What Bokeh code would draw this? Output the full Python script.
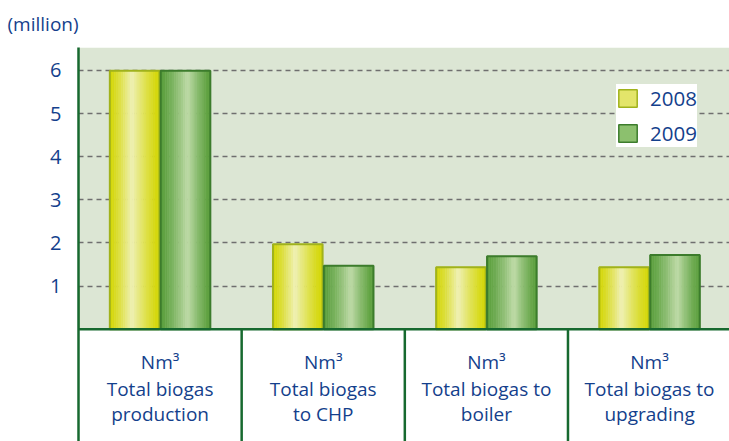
import numpy as np
from bokeh.plotting import figure
from bokeh.models import (ColumnDataSource, BoxAnnotation, FixedTicker, Legend,
                          LegendItem, Range1d)
from bokeh.embed import file_html
from bokeh.resources import INLINE
from bokeh.core.properties import value

# ---- data ----
categories = ["Total biogas production", "Total biogas to CHP",
              "Total biogas to boiler", "Total biogas to upgrading"]
unit_line = ["Nm³", "Nm³", "Nm³", "Nm³"]
label_line2 = ["Total biogas", "Total biogas", "Total biogas to", "Total biogas to"]
label_line3 = ["production", "to CHP", "boiler", "upgrading"]
series = ["2008", "2009"]
values_2008 = [5.99, 1.97, 1.44, 1.44]
values_2009 = [5.99, 1.47, 1.69, 1.72]
y_ticks = [1, 2, 3, 4, 5, 6]
y_unit = "(million)"

# ---- style ----
FONT = "Open Sans"
BLUE = "#143f8c"
DKGREEN = "#17692f"
BG = "#dce6d4"

yellow_edge = np.array([0xd4, 0xd7, 0x05])
yellow_light = np.array([0xf0, 0xf1, 0xb6])
green_edge = np.array([0x5a, 0x9f, 0x3c])
green_light = np.array([0xbf, 0xdb, 0xa8])
yellow_outline = "#a0b21c"
green_outline = "#3c7c2c"

def hexcol(c):
    c = np.clip(np.round(c), 0, 255).astype(int)
    return "#%02x%02x%02x" % tuple(c)

def shade(edge, light, t, peak):
    d = abs(t - peak) / (peak if t < peak else 1 - peak)
    f = max(0.0, 1 - d) ** 1.3
    return hexcol(edge + (light - edge) * f)

Y0, Y1 = -2.6, 6.53
X0, X1 = 0, 3.99
p = figure(width=729, height=441, output_backend="svg", toolbar_location=None,
           x_range=Range1d(X0, X1), y_range=Range1d(Y0, Y1),
           x_axis_location=None, min_border_left=78, min_border_right=0,
           min_border_top=47, min_border_bottom=0, title=y_unit)
p.outline_line_color = None
p.background_fill_color = "white"
p.border_fill_color = "white"

# green plot background above zero
p.add_layout(BoxAnnotation(bottom=0, fill_color=BG, fill_alpha=1,
                           line_color=None, level="image"))

# unit title
p.title.text_font = FONT
p.title.text_font_size = "19px"
p.title.text_font_style = "normal"
p.title.text_color = BLUE
p.title.align = "left"
p.title.vertical_align = "top"
p.title.offset = -71
p.title.standoff = 18

# y axis
yax = p.yaxis[0]
yax.ticker = FixedTicker(ticks=y_ticks)
yax.minor_tick_line_color = None
yax.major_tick_line_color = None
yax.major_tick_out = 0
yax.major_tick_in = 0
yax.axis_line_color = DKGREEN
yax.axis_line_width = 2.5
yax.major_label_text_font = FONT
yax.major_label_text_font_size = "20px"
yax.major_label_text_color = BLUE
yax.major_label_standoff = 17

p.xgrid.visible = False
p.ygrid.ticker = FixedTicker(ticks=y_ticks)
p.ygrid.grid_line_color = "#6f6f6f"
p.ygrid.grid_line_width = 1.6
p.ygrid.grid_line_dash = "5 4"

# bars with simulated gradient
n_cat = len(categories)
centers = np.arange(n_cat) + 0.5
bw = 0.304
offsets = [-0.156, 0.156]
N = 22
xs, tops, cols = [], [], []
palette = [(yellow_edge, yellow_light, 0.45), (green_edge, green_light, 0.55)]
for s, vals in enumerate([values_2008, values_2009]):
    edge, light, peak = palette[s]
    for i, v in enumerate(vals):
        left = centers[i] + offsets[s] - bw / 2
        for k in range(N):
            t = (k + 0.5) / N
            xs.append(left + t * bw)
            tops.append(v)
            cols.append(shade(edge, light, t, peak))
strip_src = ColumnDataSource(dict(x=xs, top=tops, color=cols))
p.vbar(x="x", top="top", bottom=0, width=bw / N, source=strip_src,
       fill_color="color", line_color="color", line_width=0.6)

r08 = p.vbar(x=centers + offsets[0], top=values_2008, bottom=0, width=bw,
             fill_alpha=0, line_color=yellow_outline, line_width=2)
r09 = p.vbar(x=centers + offsets[1], top=values_2009, bottom=0, width=bw,
             fill_alpha=0, line_color=green_outline, line_width=2)

# legend swatch renderers (placed outside the visible x range)
l08 = p.vbar(x=[-9], top=[1], width=0.1, fill_color="#e3e56a",
             line_color=yellow_outline, line_width=1.5)
l09 = p.vbar(x=[-9], top=[1], width=0.1, fill_color="#8cc06e",
             line_color=green_outline, line_width=1.5)

# category boxes: baseline and dividers
p.segment(x0=[0], y0=[0], x1=[n_cat], y1=[0], line_color=DKGREEN, line_width=2.5)
div_x = list(range(1, n_cat))
p.segment(x0=div_x, y0=[0] * len(div_x), x1=div_x, y1=[Y0] * len(div_x),
          line_color=DKGREEN, line_width=2.5)

# category labels
for lines, off in [(unit_line, 33), (label_line2, 60), (label_line3, 85)]:
    p.text(x=centers, y=[0] * n_cat, text=lines, y_offset=off,
           text_align="center", text_baseline="middle",
           text_font=value(FONT), text_font_size="19px", text_color=BLUE)

legend = Legend(items=[LegendItem(label=series[0], renderers=[l08]),
                       LegendItem(label=series[1], renderers=[l09])],
                location=(538, 294), orientation="vertical",
                glyph_width=23, glyph_height=22, label_standoff=11,
                spacing=7, padding=9, margin=0,
                label_text_font=FONT, label_text_font_size="20.5px",
                label_text_color=BLUE, label_height=27,
                border_line_color=None, background_fill_color="white",
                background_fill_alpha=1)
p.add_layout(legend, "center")

open("out.html", "w").write(file_html(p, INLINE))
